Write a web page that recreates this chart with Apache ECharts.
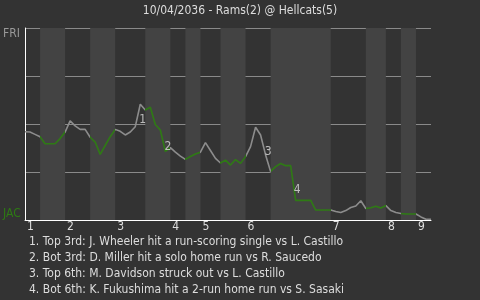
<!DOCTYPE html>
<html><head><meta charset="utf-8">
<script src="https://cdn.jsdelivr.net/npm/echarts@6/dist/echarts.min.js"></script>
<style>html,body{margin:0;padding:0;background:#333333;}#c{width:480px;height:300px;}</style>
</head><body><div id="c"></div>
<script>
const titleText = '10/04/2036 - Rams(2) @ Hellcats(5)';
const topTeam = 'FRI';
const bottomTeam = 'JAC';
// half-inning boundaries (plate-appearance index)
const halfInningStarts = [0,3,8,13,18,24,29,32,35,39,44,49,61,68,72,75,78,81];
const inningLabels = ['1','2','3','4','5','6','7','8','9'];
// win probability toward top team, one value per plate appearance
const winProb = [
  0.460,0.458,0.446,0.434,0.397,0.397,0.397,0.424,0.458,0.516,
  0.490,0.472,0.472,0.431,0.406,0.342,0.388,0.434,0.472,0.462,
  0.443,0.458,0.486,0.603,0.573,0.587,0.497,0.469,0.357,0.377,
  0.354,0.333,0.316,0.331,0.344,0.353,0.403,0.362,0.321,0.297,
  0.312,0.286,0.315,0.295,0.330,0.382,0.483,0.443,0.339,0.253,
  0.278,0.294,0.283,0.283,0.102,0.102,0.102,0.102,0.052,0.052,
  0.052,0.052,0.044,0.039,0.049,0.065,0.073,0.100,0.060,0.064,
  0.072,0.063,0.075,0.049,0.039,0.034,0.031,0.031,0.031,0.016,
  0.004,0.004
];
const annotationNums = ['1','2','3','4'];
const annotationX = [23.5, 28.5, 48.5, 54.3];
const annotationY = [0.52, 0.38, 0.354, 0.156];
const notes = [
  '1. Top 3rd: J. Wheeler hit a run-scoring single vs L. Castillo',
  '2. Bot 3rd: D. Miller hit a solo home run vs R. Saucedo',
  '3. Top 6th: M. Davidson struck out vs L. Castillo',
  '4. Bot 6th: K. Fukushima hit a 2-run home run vs S. Sasaki'
];

const FONT = "'Liberation Sans Narrow', 'DejaVu Sans Condensed', 'Roboto', sans-serif";
const GRAY = '#8c8c8c';
const GREEN = '#2e7a14';
const TEXT = '#dddddd';
const maxX = halfInningStarts[halfInningStarts.length - 1];

const bands = [];
const pieces = [];
for (let i = 0; i < halfInningStarts.length - 1; i++) {
  const a = halfInningStarts[i], b = halfInningStarts[i + 1];
  const bottom = i % 2 === 1;
  if (bottom) bands.push([{ xAxis: a }, { xAxis: b }]);
  pieces.push({ gte: a, lt: (i === halfInningStarts.length - 2 ? b + 1 : b), color: bottom ? GREEN : GRAY });
}
const inningStartValues = halfInningStarts.filter((v, i) => i % 2 === 0 && i < halfInningStarts.length - 1);
const lineData = winProb.map((v, i) => [i, v]);
const annData = annotationNums.map((n, i) => [annotationX[i], annotationY[i], n]);

const chart = echarts.init(document.getElementById('c'));
chart.setOption({
  backgroundColor: '#333333',
  animation: false,
  textStyle: { fontFamily: FONT },
  title: [
    { text: titleText, left: 'center', top: 0, textStyle: { color: TEXT, fontSize: 12, fontWeight: 'normal', fontFamily: FONT } },
    { text: notes.join('\n'), left: 24, top: 229, textStyle: { color: TEXT, fontSize: 12, fontWeight: 'normal', lineHeight: 16, fontFamily: FONT } }
  ],
  grid: { left: 25, right: 49, top: 28, bottom: 80 },
  visualMap: { show: false, type: 'piecewise', dimension: 0, seriesIndex: 1, pieces: pieces },
  xAxis: {
    type: 'value', min: 0, max: maxX, z: 1,
    axisLine: { lineStyle: { color: '#ffffff', width: 1 } },
    axisTick: { show: false },
    splitLine: { show: false },
    axisLabel: {
      customValues: inningStartValues, showMinLabel: true, showMaxLabel: true, hideOverlap: false,
      formatter: v => inningLabels[inningStartValues.indexOf(v)] || '',
      align: 'left', margin: 1, padding: [0, 0, 0, 2],
      color: TEXT, fontSize: 12, fontFamily: FONT
    }
  },
  yAxis: [
    {
      type: 'value', min: 0, max: 1, interval: 0.25, z: 1,
      axisLine: { show: true, lineStyle: { color: '#ffffff', width: 1 } },
      axisTick: { show: false },
      splitLine: { show: true, lineStyle: { color: '#8a8a8a', width: 1 } },
      axisLabel: {
        customValues: [1], formatter: () => topTeam,
        align: 'left', verticalAlign: 'top', margin: 22,
        color: '#9a9a9a', fontSize: 12, fontFamily: FONT
      }
    },
    {
      type: 'value', min: 0, max: 1, position: 'left', z: 1,
      axisLine: { show: false }, axisTick: { show: false }, splitLine: { show: false },
      axisLabel: {
        customValues: [0], formatter: () => bottomTeam,
        align: 'left', verticalAlign: 'bottom', margin: 22,
        color: GREEN, fontSize: 12, fontFamily: FONT
      }
    }
  ],
  series: [
    {
      type: 'line', data: [], z: 0, silent: true,
      markArea: { silent: true, itemStyle: { color: '#434343', borderWidth: 0 }, data: bands }
    },
    {
      type: 'line', data: lineData, z: 3, showSymbol: false, symbol: 'none',
      lineStyle: { width: 1.6 }
    },
    {
      type: 'scatter', data: annData, z: 4, symbolSize: 0, silent: true,
      label: { show: true, position: 'inside', formatter: p => p.data[2], color: TEXT, fontSize: 12, fontFamily: FONT }
    }
  ]
});
</script></body></html>
